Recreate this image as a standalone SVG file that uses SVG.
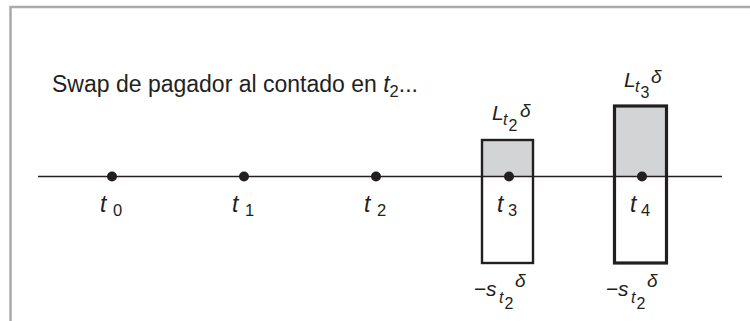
<svg xmlns="http://www.w3.org/2000/svg" width="750" height="321" viewBox="0 0 750 321">
<style>
text{font-family:"Liberation Sans",Arial,sans-serif;fill:#231f20}
.it{font-style:italic}
.t{font-size:23px}
.ts{font-size:16.5px}
.L{font-size:21px}
.s1{font-size:16px}
.s2{font-size:16px}
.d{font-size:19px}
.dot{fill:#231f20}
.gray{fill:#d3d4d6}
.box{fill:none;stroke:#231f20}
</style>
<rect width="750" height="321" fill="#fff"/>
<path id="frame" d="M10.5,321 V7 H750" fill="none" stroke="#aaaaaa" stroke-width="2.5"/>
<g id="title">
<text x="52" y="92" font-size="23">Swap de pagador al contado en <tspan class="it">t</tspan><tspan font-size="16.5" dy="5">2</tspan><tspan dy="-5">...</tspan></text>
</g>
<g id="box-t3">
<rect class="gray" x="482" y="140" width="51" height="36"/>
<rect x="482" y="176" width="51" height="87" fill="#fff"/>
<rect class="box" x="482" y="140" width="51" height="123" stroke-width="2.4"/>
</g>
<g id="box-t4">
<rect class="gray" x="614.5" y="106" width="52" height="70"/>
<rect x="614.5" y="176" width="52" height="87" fill="#fff"/>
<rect class="box" x="614.5" y="106" width="52" height="157" stroke-width="3.2"/>
</g>
<g id="connectors">
<line x1="38" y1="176.5" x2="722" y2="176.5" stroke="#231f20" stroke-width="1.3"/>
</g>
<g id="t0"><circle class="dot" cx="112" cy="176.5" r="5"/><text class="t it" x="100" y="212">t</text><text class="ts" x="113" y="216">0</text></g>
<g id="t1"><circle class="dot" cx="244" cy="176.5" r="5"/><text class="t it" x="232" y="212">t</text><text class="ts" x="245" y="216">1</text></g>
<g id="t2"><circle class="dot" cx="376" cy="176.5" r="5"/><text class="t it" x="364" y="212">t</text><text class="ts" x="377" y="216">2</text></g>
<g id="t3"><circle class="dot" cx="509" cy="176.5" r="5"/><text class="t it" x="497" y="212">t</text><text class="ts" x="508" y="216">3</text></g>
<g id="t4"><circle class="dot" cx="642" cy="176.5" r="5"/><text class="t it" x="630" y="212">t</text><text class="ts" x="641" y="216">4</text></g>
<g id="label-L-t2">
<text class="L it" x="492" y="120">L</text><text class="s1 it" x="503" y="125">t</text><text class="s2" x="508.5" y="131">2</text><text class="d it" x="520" y="117">δ</text>
</g>
<g id="label-L-t3">
<text class="L it" x="624" y="87">L</text><text class="s1 it" x="635" y="92">t</text><text class="s2" x="640.5" y="98">3</text><text class="d it" x="651" y="83">δ</text>
</g>
<g id="label-s-t3">
<text class="L" x="474" y="296">−</text><text class="L it" x="486" y="296">s</text><text class="s1 it" x="499" y="303">t</text><text class="s2" x="504.5" y="309">2</text><text class="d it" x="515" y="287">δ</text>
</g>
<g id="label-s-t4">
<text class="L" x="606" y="296">−</text><text class="L it" x="618" y="296">s</text><text class="s1 it" x="631" y="303">t</text><text class="s2" x="636.5" y="309">2</text><text class="d it" x="647" y="287">δ</text>
</g>
</svg>
